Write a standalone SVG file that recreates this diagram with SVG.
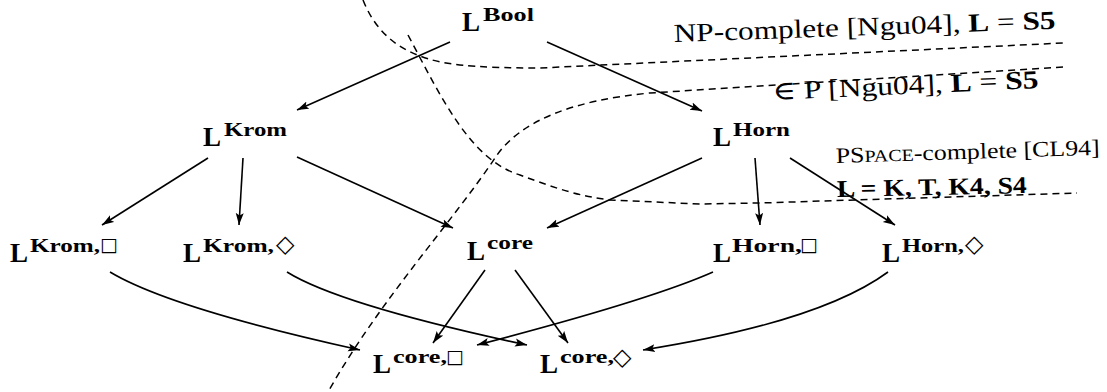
<svg xmlns="http://www.w3.org/2000/svg" width="1107" height="392" viewBox="0 0 1107 392">
<style>
.L{font-family:"Liberation Serif","DejaVu Serif",serif;font-weight:bold;font-size:27px;fill:#000}
.sup{font-family:"Liberation Serif","DejaVu Serif",serif;font-weight:bold;font-size:18px;fill:#000}
.sym{font-family:"DejaVu Sans",sans-serif;font-size:19px;fill:#000}
.dia{font-family:"DejaVu Sans",sans-serif;font-size:24px;fill:#000}
.lbl{font-family:"Liberation Serif","DejaVu Serif",serif;font-size:26px;fill:#000}
.b{font-weight:bold}
.edge{fill:none;stroke:#000;stroke-width:1.6;marker-end:url(#ah)}
.dash{fill:none;stroke:#000;stroke-width:1.5;stroke-dasharray:7 5}
</style>
<defs>
<marker id="ah" markerUnits="userSpaceOnUse" markerWidth="14" markerHeight="10" refX="12" refY="4.5" orient="auto">
<path d="M0,0.5 L12,4.5 L0,8.5 L2.5,4.5 z" fill="#000"/>
</marker>
</defs>
<g id="boundaries">
<path class="dash" d="M363,0 C373,25 390,45 420,56 C440,64 470,68 540,68 L1063,43"/>
<path class="dash" d="M408,35 C440,95 470,160 520,175 C560,190 580,196 610,200 L700,204 L760,203 L1077,193"/>
<path class="dash" d="M1063,67 L650,93 C575,100 520,120 495,158 C450,225 380,300 328,392"/>
</g>
<g id="connectors">
<line class="edge" x1="450" y1="42" x2="297" y2="110"/>
<line class="edge" x1="547" y1="42" x2="702" y2="111"/>
<line class="edge" x1="208" y1="158" x2="102" y2="225"/>
<line class="edge" x1="243" y1="158" x2="239" y2="225"/>
<line class="edge" x1="297" y1="157" x2="453" y2="228"/>
<line class="edge" x1="702" y1="158" x2="547" y2="228"/>
<line class="edge" x1="755" y1="158" x2="760" y2="225"/>
<line class="edge" x1="790" y1="158" x2="895" y2="225"/>
<line class="edge" x1="485" y1="270" x2="433" y2="343"/>
<line class="edge" x1="515" y1="270" x2="568" y2="343"/>
<path class="edge" d="M110,272 Q170,308 360,350"/>
<path class="edge" d="M287,272 Q340,305 527,345"/>
<path class="edge" d="M713,272 Q650,300 477,345"/>
<path class="edge" d="M888,272 Q820,322 643,350"/>
</g>
<g id="n-bool"><text class="L" x="462" y="31">L</text><text class="sup" x="483" y="21" textLength="51" lengthAdjust="spacingAndGlyphs">Bool</text></g>
<g id="n-krom"><text class="L" x="203" y="146">L</text><text class="sup" x="224" y="136" textLength="63" lengthAdjust="spacingAndGlyphs">Krom</text></g>
<g id="n-horn"><text class="L" x="713" y="146">L</text><text class="sup" x="733" y="136" textLength="57" lengthAdjust="spacingAndGlyphs">Horn</text></g>
<g id="n-krom-box"><text class="L" x="10" y="262">L</text><text class="sup" x="30" y="252" textLength="70" lengthAdjust="spacingAndGlyphs">Krom,</text><text class="sym" x="100" y="251">□</text></g>
<g id="n-krom-dia"><text class="L" x="183" y="262">L</text><text class="sup" x="203" y="252" textLength="71" lengthAdjust="spacingAndGlyphs">Krom,</text><text class="dia" x="276" y="252">◇</text></g>
<g id="n-core"><text class="L" x="467" y="260">L</text><text class="sup" x="487" y="249" textLength="46" lengthAdjust="spacingAndGlyphs">core</text></g>
<g id="n-horn-box"><text class="L" x="713" y="262">L</text><text class="sup" x="732" y="252" textLength="70" lengthAdjust="spacingAndGlyphs">Horn,</text><text class="sym" x="800" y="251">□</text></g>
<g id="n-horn-dia"><text class="L" x="882" y="262">L</text><text class="sup" x="902" y="252" textLength="62" lengthAdjust="spacingAndGlyphs">Horn,</text><text class="dia" x="965" y="252">◇</text></g>
<g id="n-core-box"><text class="L" x="373" y="373">L</text><text class="sup" x="393" y="363" textLength="54" lengthAdjust="spacingAndGlyphs">core,</text><text class="sym" x="446" y="363">□</text></g>
<g id="n-core-dia"><text class="L" x="540" y="373">L</text><text class="sup" x="560" y="363" textLength="54" lengthAdjust="spacingAndGlyphs">core,</text><text class="dia" x="613" y="365">◇</text></g>
<g id="labels">
<text class="lbl" transform="translate(674,42) rotate(-2)" textLength="382" lengthAdjust="spacingAndGlyphs">NP-complete [Ngu04], <tspan class="b">L</tspan> = <tspan class="b">S5</tspan></text>
<text class="lbl" transform="translate(773,100) rotate(-2.6)" textLength="266" lengthAdjust="spacingAndGlyphs">∈ P [Ngu04], <tspan class="b">L</tspan> = <tspan class="b">S5</tspan></text>
<text class="lbl" style="font-size:22px" transform="translate(836,163) rotate(-1.8)" textLength="264" lengthAdjust="spacingAndGlyphs">PS<tspan style="font-size:17px">PACE</tspan>-complete [CL94]</text>
<text class="lbl b" style="font-size:24px" transform="translate(837,197) rotate(-1.2)" textLength="190" lengthAdjust="spacingAndGlyphs">L = K, T, K4, S4</text>
</g>
</svg>
